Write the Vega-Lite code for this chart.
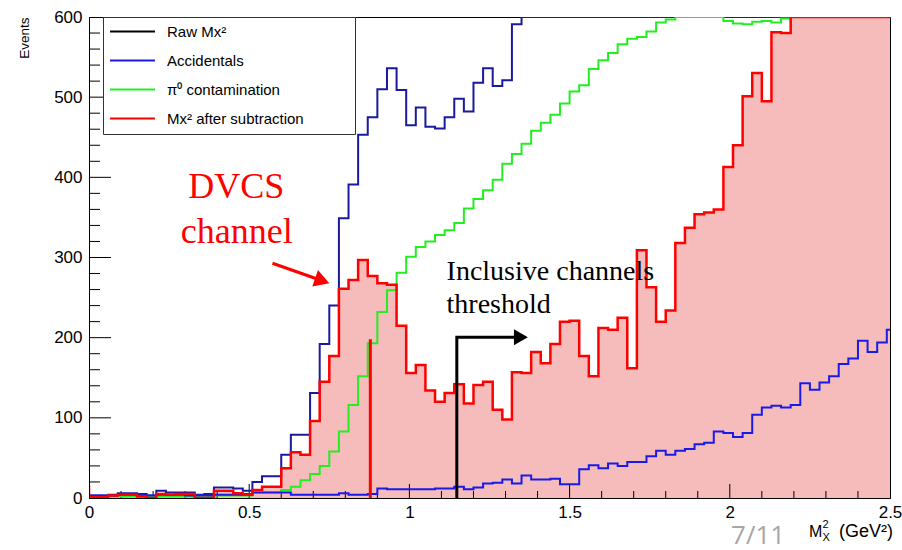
{
  "$schema": "https://vega.github.io/schema/vega-lite/v6.json",
  "width": 801,
  "height": 481,
  "autosize": {"type": "none"},
  "padding": {"left": 89, "top": 17, "right": 12, "bottom": 52},
  "background": "white",
  "config": {
    "view": {"stroke": "black", "strokeWidth": 1},
    "axis": {"grid": false, "domainColor": "black", "tickColor": "black", "labelColor": "black", "labelFont": "Liberation Sans", "titleFont": "Liberation Sans"}
  },
  "datasets": {
    "hist": [
      {"x": -0.03, "raw": 33, "acc": 3, "pi0": 2, "sub": 14},
      {"x": 0.00, "raw": 3, "acc": 3, "pi0": 2, "sub": 1},
      {"x": 0.03, "raw": 3, "acc": 3, "pi0": 2, "sub": 1},
      {"x": 0.06, "raw": 4, "acc": 3, "pi0": 2, "sub": 3},
      {"x": 0.09, "raw": 6, "acc": 4, "pi0": 2, "sub": 4},
      {"x": 0.12, "raw": 6, "acc": 4, "pi0": 2, "sub": 4},
      {"x": 0.15, "raw": 5, "acc": 3, "pi0": 2, "sub": 2},
      {"x": 0.18, "raw": 3, "acc": 3, "pi0": 2, "sub": 0},
      {"x": 0.21, "raw": 9, "acc": 4, "pi0": 2, "sub": 5},
      {"x": 0.24, "raw": 7, "acc": 4, "pi0": 2, "sub": 4},
      {"x": 0.27, "raw": 7, "acc": 4, "pi0": 2, "sub": 5},
      {"x": 0.30, "raw": 7, "acc": 3, "pi0": 2, "sub": 5},
      {"x": 0.33, "raw": 4, "acc": 3, "pi0": 1, "sub": 0},
      {"x": 0.36, "raw": 5, "acc": 3, "pi0": 1, "sub": 0},
      {"x": 0.39, "raw": 13, "acc": 4, "pi0": 3, "sub": 9},
      {"x": 0.42, "raw": 13, "acc": 4, "pi0": 3, "sub": 9},
      {"x": 0.45, "raw": 12, "acc": 4, "pi0": 3, "sub": 6},
      {"x": 0.48, "raw": 9, "acc": 5, "pi0": 3, "sub": 4},
      {"x": 0.51, "raw": 20, "acc": 7, "pi0": 7, "sub": 10},
      {"x": 0.54, "raw": 27, "acc": 7, "pi0": 7, "sub": 14},
      {"x": 0.57, "raw": 27, "acc": 7, "pi0": 7, "sub": 14},
      {"x": 0.60, "raw": 54, "acc": 7, "pi0": 10, "sub": 37},
      {"x": 0.63, "raw": 79, "acc": 4, "pi0": 14, "sub": 57},
      {"x": 0.66, "raw": 79, "acc": 4, "pi0": 22, "sub": 54},
      {"x": 0.69, "raw": 131, "acc": 4, "pi0": 30, "sub": 96},
      {"x": 0.72, "raw": 192, "acc": 4, "pi0": 40, "sub": 145},
      {"x": 0.75, "raw": 240, "acc": 4, "pi0": 58, "sub": 177},
      {"x": 0.78, "raw": 349, "acc": 6, "pi0": 83, "sub": 261},
      {"x": 0.81, "raw": 391, "acc": 4, "pi0": 116, "sub": 272},
      {"x": 0.84, "raw": 453, "acc": 4, "pi0": 152, "sub": 297},
      {"x": 0.87, "raw": 475, "acc": 5, "pi0": 193, "sub": 277},
      {"x": 0.90, "raw": 510, "acc": 12, "pi0": 232, "sub": 268},
      {"x": 0.93, "raw": 536, "acc": 11, "pi0": 259, "sub": 266},
      {"x": 0.96, "raw": 509, "acc": 11, "pi0": 281, "sub": 215},
      {"x": 0.99, "raw": 465, "acc": 11, "pi0": 301, "sub": 156},
      {"x": 1.02, "raw": 487, "acc": 11, "pi0": 313, "sub": 166},
      {"x": 1.05, "raw": 463, "acc": 11, "pi0": 320, "sub": 134},
      {"x": 1.08, "raw": 461, "acc": 12, "pi0": 328, "sub": 120},
      {"x": 1.11, "raw": 475, "acc": 12, "pi0": 334, "sub": 131},
      {"x": 1.14, "raw": 498, "acc": 14, "pi0": 343, "sub": 142},
      {"x": 1.17, "raw": 482, "acc": 11, "pi0": 361, "sub": 118},
      {"x": 1.20, "raw": 518, "acc": 13, "pi0": 373, "sub": 141},
      {"x": 1.23, "raw": 536, "acc": 18, "pi0": 384, "sub": 145},
      {"x": 1.26, "raw": 514, "acc": 19, "pi0": 397, "sub": 110},
      {"x": 1.29, "raw": 521, "acc": 23, "pi0": 417, "sub": 98},
      {"x": 1.32, "raw": 591, "acc": 18, "pi0": 429, "sub": 157},
      {"x": 1.35, "raw": 600, "acc": 28, "pi0": 442, "sub": 156},
      {"x": 1.38, "raw": 600, "acc": 23, "pi0": 458, "sub": 182},
      {"x": 1.41, "raw": 600, "acc": 23, "pi0": 468, "sub": 168},
      {"x": 1.44, "raw": 600, "acc": 24, "pi0": 478, "sub": 192},
      {"x": 1.47, "raw": 600, "acc": 17, "pi0": 492, "sub": 220},
      {"x": 1.50, "raw": 600, "acc": 17, "pi0": 507, "sub": 221},
      {"x": 1.53, "raw": 600, "acc": 36, "pi0": 515, "sub": 177},
      {"x": 1.56, "raw": 600, "acc": 41, "pi0": 535, "sub": 152},
      {"x": 1.59, "raw": 600, "acc": 37, "pi0": 546, "sub": 212},
      {"x": 1.62, "raw": 600, "acc": 43, "pi0": 555, "sub": 210},
      {"x": 1.65, "raw": 600, "acc": 40, "pi0": 566, "sub": 225},
      {"x": 1.68, "raw": 600, "acc": 45, "pi0": 573, "sub": 162},
      {"x": 1.71, "raw": 600, "acc": 45, "pi0": 575, "sub": 309},
      {"x": 1.74, "raw": 600, "acc": 52, "pi0": 582, "sub": 263},
      {"x": 1.77, "raw": 600, "acc": 59, "pi0": 593, "sub": 220},
      {"x": 1.80, "raw": 600, "acc": 54, "pi0": 597, "sub": 234},
      {"x": 1.83, "raw": 600, "acc": 59, "pi0": 600, "sub": 318},
      {"x": 1.86, "raw": 600, "acc": 61, "pi0": 600, "sub": 337},
      {"x": 1.89, "raw": 600, "acc": 67, "pi0": 600, "sub": 354},
      {"x": 1.92, "raw": 600, "acc": 69, "pi0": 600, "sub": 356},
      {"x": 1.95, "raw": 600, "acc": 83, "pi0": 600, "sub": 360},
      {"x": 1.98, "raw": 600, "acc": 81, "pi0": 595, "sub": 413},
      {"x": 2.01, "raw": 600, "acc": 76, "pi0": 592, "sub": 440},
      {"x": 2.04, "raw": 600, "acc": 81, "pi0": 591, "sub": 501},
      {"x": 2.07, "raw": 600, "acc": 104, "pi0": 594, "sub": 530},
      {"x": 2.10, "raw": 600, "acc": 113, "pi0": 595, "sub": 495},
      {"x": 2.13, "raw": 600, "acc": 115, "pi0": 593, "sub": 581},
      {"x": 2.16, "raw": 600, "acc": 113, "pi0": 598, "sub": 580},
      {"x": 2.19, "raw": 600, "acc": 116, "pi0": 600, "sub": 600},
      {"x": 2.22, "raw": 600, "acc": 143, "pi0": 600, "sub": 600},
      {"x": 2.25, "raw": 600, "acc": 135, "pi0": 600, "sub": 600},
      {"x": 2.28, "raw": 600, "acc": 144, "pi0": 600, "sub": 600},
      {"x": 2.31, "raw": 600, "acc": 152, "pi0": 600, "sub": 600},
      {"x": 2.34, "raw": 600, "acc": 167, "pi0": 600, "sub": 600},
      {"x": 2.37, "raw": 600, "acc": 174, "pi0": 600, "sub": 600},
      {"x": 2.40, "raw": 600, "acc": 196, "pi0": 600, "sub": 600},
      {"x": 2.43, "raw": 600, "acc": 182, "pi0": 600, "sub": 600},
      {"x": 2.46, "raw": 600, "acc": 194, "pi0": 600, "sub": 600},
      {"x": 2.49, "raw": 600, "acc": 210, "pi0": 600, "sub": 600},
      {"x": 2.52, "raw": 600, "acc": 210, "pi0": 600, "sub": 600}
    ]
  },
  "encoding": {
    "x": {"field": "x", "type": "quantitative", "scale": {"domain": [0, 2.5], "nice": false, "zero": false},
      "axis": {"orient": "bottom", "tickCount": 25,
        "format": "~g", "labelExpr": "abs(datum.value * 2 - round(datum.value * 2)) < 0.001 ? datum.label : ''",
        "ticks": false, "labelPadding": 6, "labelFontSize": 17, "labelFlush": false, "labelOverlap": false, "labelBound": false, "title": null, "zindex": 1}},
    "y": {"field": "value", "type": "quantitative", "scale": {"domain": [0, 600], "nice": false},
      "axis": {"orient": "left", "tickCount": 30,
        "format": "d", "labelExpr": "datum.value % 100 === 0 ? datum.label : ''",
        "ticks": false, "labelPadding": 7, "labelFontSize": 17, "labelFlush": false, "labelOverlap": false, "labelBound": false, "zindex": 1,
        "title": "Events", "titleFontSize": 13.5, "titleFontWeight": "normal", "titleAngle": -90, "titleAlign": "right", "titleBaseline": "middle", "titleX": -65, "titleY": 0, "titleColor": "black"}}
  },
  "layer": [
    {
      "data": {"name": "hist"},
      "transform": [{"fold": ["raw", "acc", "pi0", "sub"], "as": ["series", "value"]}, {"filter": "datum.series === 'sub'"}],
      "mark": {"type": "area", "interpolate": "step-after", "fill": "#f6bcbc", "clip": true}
    },
    {
      "data": {"values": [{"x": 0, "value": 100}, {"x": 0, "value": 200}, {"x": 0, "value": 300}, {"x": 0, "value": 400}, {"x": 0, "value": 500}]},
      "mark": {"type": "rule", "color": "black", "strokeWidth": 1},
      "encoding": {"x2": {"datum": 0.0686}}
    },
    {
      "data": {"values": [{"x": 0, "value": 20}, {"x": 0, "value": 40}, {"x": 0, "value": 60}, {"x": 0, "value": 80}, {"x": 0, "value": 120}, {"x": 0, "value": 140}, {"x": 0, "value": 160}, {"x": 0, "value": 180}, {"x": 0, "value": 220}, {"x": 0, "value": 240}, {"x": 0, "value": 260}, {"x": 0, "value": 280}, {"x": 0, "value": 320}, {"x": 0, "value": 340}, {"x": 0, "value": 360}, {"x": 0, "value": 380}, {"x": 0, "value": 420}, {"x": 0, "value": 440}, {"x": 0, "value": 460}, {"x": 0, "value": 480}, {"x": 0, "value": 520}, {"x": 0, "value": 540}, {"x": 0, "value": 560}, {"x": 0, "value": 580}]},
      "mark": {"type": "rule", "color": "black", "strokeWidth": 1},
      "encoding": {"x2": {"datum": 0.0343}}
    },
    {
      "data": {"values": [{"x": 0.5, "value": 0}, {"x": 1, "value": 0}, {"x": 1.5, "value": 0}, {"x": 2, "value": 0}]},
      "mark": {"type": "rule", "color": "black", "strokeWidth": 1},
      "encoding": {"y2": {"datum": 17.5}}
    },
    {
      "data": {"values": [{"x": 0.1, "value": 0}, {"x": 0.2, "value": 0}, {"x": 0.3, "value": 0}, {"x": 0.4, "value": 0}, {"x": 0.6, "value": 0}, {"x": 0.7, "value": 0}, {"x": 0.8, "value": 0}, {"x": 0.9, "value": 0}, {"x": 1.1, "value": 0}, {"x": 1.2, "value": 0}, {"x": 1.3, "value": 0}, {"x": 1.4, "value": 0}, {"x": 1.6, "value": 0}, {"x": 1.7, "value": 0}, {"x": 1.8, "value": 0}, {"x": 1.9, "value": 0}, {"x": 2.1, "value": 0}, {"x": 2.2, "value": 0}, {"x": 2.3, "value": 0}, {"x": 2.4, "value": 0}]},
      "mark": {"type": "rule", "color": "black", "strokeWidth": 1},
      "encoding": {"y2": {"datum": 8.7}}
    },
    {
      "data": {"name": "hist"},
      "transform": [{"fold": ["raw", "acc", "pi0", "sub"], "as": ["series", "value"]}, {"filter": "datum.series === 'raw'"}],
      "mark": {"type": "line", "interpolate": "step-after", "strokeWidth": 2, "clip": true, "color": "#1a1a9e"}
    },
    {
      "data": {"name": "hist"},
      "transform": [{"fold": ["raw", "acc", "pi0", "sub"], "as": ["series", "value"]}, {"filter": "datum.series === 'pi0'"}],
      "mark": {"type": "line", "interpolate": "step-after", "strokeWidth": 2, "clip": true},
      "encoding": {
        "color": {"field": "series", "type": "nominal",
          "scale": {"domain": ["raw", "acc", "pi0", "sub"], "range": ["#000000", "#1a1ae8", "#22ee22", "#ff0000"]},
          "legend": {"orient": "none", "legendX": 14, "legendY": 0, "title": null,
            "strokeColor": "#333333", "fillColor": "white", "padding": 7, "cornerRadius": 0,
            "symbolType": "M-5,0H5", "symbolSize": 81, "symbolStrokeWidth": 2, "symbolOffset": 15, "labelOffset": 27,
            "labelFont": "Liberation Sans", "labelFontSize": 15, "labelColor": "black", "rowPadding": 13, "labelLimit": 400,
            "labelExpr": "({'raw': 'Raw Mx²', 'acc': 'Accidentals', 'pi0': 'π⁰ contamination', 'sub': 'Mx² after subtraction'})[datum.label] + '\u2800\u2800\u2800\u2800'"}
        }
      }
    },
    {
      "data": {"name": "hist"},
      "transform": [{"fold": ["raw", "acc", "pi0", "sub"], "as": ["series", "value"]}, {"filter": "datum.series === 'acc'"}],
      "mark": {"type": "line", "interpolate": "step-after", "strokeWidth": 2, "clip": true},
      "encoding": {
        "color": {"field": "series", "type": "nominal", "scale": {"domain": ["raw", "acc", "pi0", "sub"], "range": ["#000000", "#1a1ae8", "#22ee22", "#ff0000"]}}
      }
    },
    {
      "data": {"name": "hist"},
      "transform": [{"fold": ["raw", "acc", "pi0", "sub"], "as": ["series", "value"]}, {"filter": "datum.series === 'sub'"}],
      "mark": {"type": "line", "interpolate": "step-after", "strokeWidth": 2.5, "clip": true},
      "encoding": {
        "color": {"field": "series", "type": "nominal", "scale": {"domain": ["raw", "acc", "pi0", "sub"], "range": ["#000000", "#1a1ae8", "#22ee22", "#ff0000"]}}
      }
    },
    {
      "data": {"values": [{"x": 0.878, "value": 0, "top": 198}]},
      "mark": {"type": "rule", "color": "#ff0000", "strokeWidth": 3},
      "encoding": {"y2": {"field": "top"}}
    },
    {
      "data": {"values": [{"x": 1.148, "value": 0, "k": 0}, {"x": 1.148, "value": 200.5, "k": 1}, {"x": 1.348, "value": 200.5, "k": 2}]},
      "mark": {"type": "line", "color": "black", "strokeWidth": 3},
      "encoding": {"order": {"field": "k", "type": "quantitative"}}
    },
    {
      "data": {"values": [{"x": 1.348, "value": 200.5}]},
      "mark": {"type": "point", "shape": "triangle-right", "filled": true, "color": "black", "size": 260, "opacity": 1}
    },
    {
      "data": {"values": [{"x": 0.5727, "value": 292.8, "k": 0}, {"x": 0.7279, "value": 271.0, "k": 1}]},
      "mark": {"type": "line", "color": "#ff0000", "strokeWidth": 3},
      "encoding": {"order": {"field": "k", "type": "quantitative"}}
    },
    {
      "data": {"values": [{"x": 0.7279, "value": 271.0}]},
      "mark": {"type": "point", "shape": "triangle-right", "filled": true, "color": "#ff0000", "size": 300, "angle": 19, "opacity": 1}
    },
    {
      "data": {"values": [{"x": 0.4598, "value": 374, "t": "DVCS"}, {"x": 0.4614, "value": 318, "t": "channel"}]},
      "mark": {"type": "text", "font": "Liberation Serif", "fontSize": 36, "color": "#ff0000", "align": "center", "baseline": "alphabetic"},
      "encoding": {"text": {"field": "t", "type": "nominal"}}
    },
    {
      "data": {"values": [{"x": 1.116, "value": 272, "t": "Inclusive channels"}, {"x": 1.116, "value": 230.4, "t": "threshold"}]},
      "mark": {"type": "text", "font": "Liberation Serif", "fontSize": 28, "color": "black", "align": "left", "baseline": "alphabetic"},
      "encoding": {"text": {"field": "t", "type": "nominal"}}
    },
    {
      "data": {"values": [{"x": 2.004, "value": -57.5, "t": "7/11"}]},
      "mark": {"type": "text", "font": "Open Sans", "fontSize": 26, "color": "#a6a6a6", "align": "left", "baseline": "alphabetic"},
      "encoding": {"text": {"field": "t", "type": "nominal"}}
    },
    {
      "data": {"values": [{"x": 2.2475, "value": -48.6, "t": "M"}]},
      "mark": {"type": "text", "font": "Liberation Sans", "fontSize": 16, "color": "black", "align": "left", "baseline": "alphabetic"},
      "encoding": {"text": {"field": "t", "type": "nominal"}}
    },
    {
      "data": {"values": [{"x": 2.289, "value": -37.5, "t": "2"}, {"x": 2.289, "value": -54, "t": "X"}]},
      "mark": {"type": "text", "font": "Liberation Sans", "fontSize": 11, "color": "black", "align": "left", "baseline": "alphabetic"},
      "encoding": {"text": {"field": "t", "type": "nominal"}}
    },
    {
      "data": {"values": [{"x": 2.509, "value": -48.6, "t": "(GeV²)"}]},
      "mark": {"type": "text", "font": "Liberation Sans", "fontSize": 18, "color": "black", "align": "right", "baseline": "alphabetic"},
      "encoding": {"text": {"field": "t", "type": "nominal"}}
    }
  ]
}
